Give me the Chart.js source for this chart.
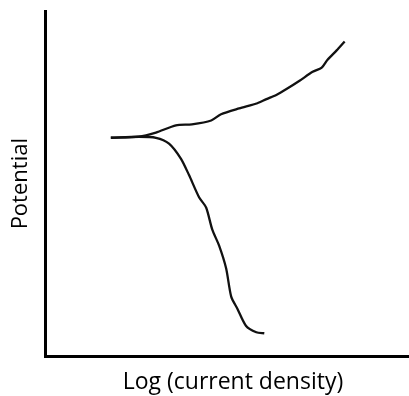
<!DOCTYPE html>
<html>
<head>
<meta charset="utf-8">
<script src="https://cdn.jsdelivr.net/npm/chart.js@4"></script>
<style>
html,body{margin:0;padding:0;background:#fff;}
#wrap{width:409px;height:396px;}
</style>
</head>
<body>
<div id="wrap"><canvas id="c" width="409" height="396"></canvas></div>
<script>
// Anodic branch (upper), arbitrary units: x = log(current density), y = potential
const anodicX = [1.80, 2.57, 3.04, 3.59, 4.03, 4.56, 4.83, 5.33, 5.83, 6.08, 6.35, 6.63, 6.99, 7.35, 7.60, 7.76, 8.01, 8.23];
const anodicY = [6.33, 6.36, 6.48, 6.69, 6.72, 6.83, 7.01, 7.18, 7.33, 7.45, 7.57, 7.74, 7.98, 8.24, 8.36, 8.59, 8.86, 9.12];
// Cathodic branch (lower)
const cathodicX = [1.80, 2.57, 3.04, 3.40, 3.73, 3.95, 4.23, 4.42, 4.59, 4.78, 4.97, 5.11, 5.28, 5.52, 5.80, 6.02];
const cathodicY = [6.33, 6.36, 6.33, 6.16, 5.72, 5.25, 4.60, 4.31, 3.67, 3.20, 2.55, 1.73, 1.38, 0.88, 0.70, 0.67];
const xTitle = "\u2002Log (current density)";
const yTitle = "Potential";

const toPts = (xs, ys) => xs.map((x, i) => ({x: x, y: ys[i]}));

new Chart(document.getElementById('c'), {
  type: 'scatter',
  data: {
    datasets: [
      {data: toPts(anodicX, anodicY), showLine: true, borderColor: '#111', borderWidth: 2.3, pointRadius: 0, tension: 0.25, fill: false},
      {data: toPts(cathodicX, cathodicY), showLine: true, borderColor: '#111', borderWidth: 2.3, pointRadius: 0, tension: 0.25, fill: false}
    ]
  },
  options: {
    responsive: false,
    animation: false,
    devicePixelRatio: 1,
    layout: {padding: {left: 8, top: 11, right: 0, bottom: 0}},
    plugins: {legend: {display: false}, tooltip: {enabled: false}},
    scales: {
      x: {
        type: 'linear', min: 0, max: 10,
        grid: {display: false, drawTicks: false},
        border: {display: true, color: '#000', width: 3},
        ticks: {display: false},
        title: {display: true, text: xTitle, color: '#000', font: {family: 'Open Sans', size: 23}, padding: {top: 12, bottom: 0}}
      },
      y: {
        type: 'linear', min: 0, max: 10,
        grid: {display: false, drawTicks: false},
        border: {display: true, color: '#000', width: 3},
        ticks: {display: false},
        title: {display: true, text: yTitle, color: '#000', font: {family: 'Open Sans', size: 22}, padding: {top: 0, bottom: 11}}
      }
    }
  }
});
</script>
</body>
</html>
